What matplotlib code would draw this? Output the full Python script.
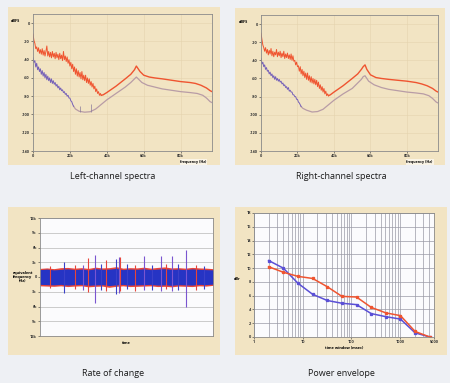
import numpy as np
import matplotlib
matplotlib.use("Agg")
import matplotlib.pyplot as plt
from matplotlib.patches import Rectangle
from matplotlib.ticker import LogLocator, NullFormatter

plt.rcParams["font.family"] = ["Open Sans", "DejaVu Sans"]

# ── 频谱数据（kHz / dBFS）──────────────────────────────────────────
NOISY_STEP = 0.5
L_RED_NOISY = [-12, -19, -22, -28, -26, -31, -27, -33, -29, -34, -28, -35, -30, -36,
               -31, -25, -36, -31, -37, -32, -38, -31, -37, -33, -39, -32, -38, -34,
               -40, -33, -39, -35, -41, -31, -40, -36, -42, -37, -44, -40, -47, -43,
               -50, -45, -53, -48, -56, -50, -58, -52, -59, -54, -61, -53, -62, -57,
               -63, -57, -65, -60, -66, -61, -68, -64, -70, -66, -72, -69, -75, -72,
               -77, -75, -79, -77, -79]
L_RED_SMOOTH_F = [37, 38, 40, 45, 50, 53, 55, 56, 57, 58, 60, 63, 66, 70, 75, 80, 85, 88, 91, 94, 96, 97]
L_RED_SMOOTH_V = [-79, -78.5, -76, -69, -61, -56, -51, -47, -50, -53, -57, -59, -60, -61,
                  -62.5, -64, -65, -66, -68, -71, -74, -75]
L_PUR_NOISY = [-38, -43, -41, -48, -44, -51, -48, -53, -50, -56, -52, -58, -54, -60, -56,
               -62, -58, -63, -60, -65, -61, -66, -63, -67, -65, -69, -67, -71, -69, -73,
               -71, -74, -73, -76, -75, -78, -77, -80, -79, -82, -82, -85, -86, -89, -91]
L_PUR_SMOOTH_F = [22, 23, 25, 28, 31, 34, 37, 40, 45, 50, 53, 55, 56, 57, 59, 62, 66, 70,
                  75, 80, 85, 89, 92, 94, 96, 97]
L_PUR_SMOOTH_V = [-91, -94, -96.5, -97.5, -97, -94, -89, -84, -77, -70, -65, -61, -59, -61,
                  -65, -68, -70, -72, -73.5, -75, -76, -77, -79, -82, -86, -87]
L_SPIKES_F = [25.5, 31.4]
L_SPIKES_TOP = [-91, -88]
L_SPIKES_BASE = [-97, -97]

R_RED_NOISY = [-10, -17, -23, -26, -30, -26, -32, -28, -34, -29, -33, -27, -35, -30,
               -36, -31, -34, -28, -36, -31, -35, -30, -37, -32, -36, -30, -38, -33,
               -37, -32, -38, -34, -39, -33, -40, -35, -41, -40, -45, -42, -47, -46,
               -52, -47, -55, -50, -57, -52, -59, -54, -61, -54, -62, -57, -64, -58,
               -65, -60, -66, -61, -67, -62, -69, -64, -71, -67, -73, -69, -75, -71,
               -77, -74, -79, -77, -79]
R_RED_SMOOTH_F = [37, 38, 40, 45, 50, 53, 55, 56, 57, 58, 60, 63, 66, 70, 75, 80, 85, 88, 91, 94, 96, 97]
R_RED_SMOOTH_V = [-79, -78, -75, -68, -60, -55, -50, -47, -45, -50, -56, -59, -60, -61,
                  -62, -63, -64.5, -66, -68, -71, -74, -75]
R_PUR_NOISY = [-38, -44, -42, -47, -45, -50, -48, -52, -51, -55, -53, -57, -55, -59, -57,
               -61, -58, -62, -60, -63, -61, -64, -63, -66, -65, -68, -67, -70, -69, -72,
               -70, -74, -73, -75, -75, -78, -78, -80, -80, -83, -83, -86, -87, -89, -91]
R_PUR_SMOOTH_F = [22, 23, 25, 28, 31, 34, 37, 40, 45, 50, 53, 55, 56, 57, 59, 62, 66, 70,
                  75, 80, 85, 89, 92, 94, 96, 97]
R_PUR_SMOOTH_V = [-91, -93, -95, -97, -96.5, -94, -89, -84, -77, -71, -65, -61, -58, -57,
                  -63, -67, -70, -72, -73.5, -75, -76, -77, -79, -82, -86, -87]

SPEC_YTICKS = [0, -20, -40, -60, -80, -100, -120, -140]
SPEC_XTICKS = [0, 20, 40, 60, 80]
SPEC_XLABELS = ["0", "20k", "40k", "60k", "80k"]

# ── 变化率数据（时间 0-100，单位 kHz）─────────────────────────────
BAND_T = list(range(0, 101, 4))
BAND_UP = [1.5, 1.6, 1.45, 1.55, 1.65, 1.5, 1.6, 1.45, 1.7, 1.55, 1.6, 1.75, 1.5,
           1.6, 1.55, 1.65, 1.5, 1.6, 1.7, 1.55, 1.6, 1.5, 1.65, 1.55, 1.5, 1.45]
BAND_LO = [-1.5, -1.55, -1.6, -1.5, -1.65, -1.55, -1.5, -1.7, -1.6, -1.55, -1.75, -1.6,
           -1.5, -1.65, -1.6, -1.55, -1.5, -1.65, -1.6, -1.7, -1.55, -1.6, -1.65, -1.5,
           -1.55, -1.45]
EDGE_UP = [1.75, 1.85, 1.7, 1.9, 1.95, 1.8, 1.9, 1.75, 2.0, 1.85, 1.9, 2.1, 1.8,
           1.9, 1.85, 2.0, 1.8, 1.95, 2.05, 1.85, 1.9, 1.8, 1.95, 1.85, 1.8, 1.7]
EDGE_LO = [-1.8, -1.85, -1.9, -1.8, -1.95, -1.85, -1.8, -2.0, -1.9, -1.85, -2.1, -1.9,
           -1.8, -1.95, -1.9, -1.85, -1.8, -1.95, -1.9, -2.0, -1.85, -1.9, -1.95, -1.8,
           -1.85, -1.7]
SPIKE_T = [6, 13.8, 20, 25, 27.9, 32, 35, 38, 44, 45.5, 46.5, 50, 55, 60, 65, 70, 73,
           76.5, 80, 84.6, 90, 95]
SPIKE_TOP = [2.2, 3.0, 2.4, 2.5, 3.8, 4.5, 2.6, 3.5, 3.6, 4.1, 4.0, 2.6, 2.5, 4.3, 2.5,
             4.3, 2.7, 4.2, 2.6, 5.4, 2.4, 2.3]
SPIKE_BOT = [-2.3, -3.3, -2.5, -2.6, -3.0, -5.2, -2.7, -2.8, -3.4, -3.3, -2.9, -2.5,
             -2.8, -2.6, -2.7, -2.9, -2.5, -2.8, -2.6, -6.2, -2.6, -2.4]
SPIKE_COL = ["#e8453a", "#3a40c8", "#e8453a", "#7a55d0", "#e8453a", "#7a55d0", "#3a40c8",
             "#e8453a", "#3a40c8", "#7a55d0", "#e8453a", "#3a40c8", "#e8453a", "#7a55d0",
             "#3a40c8", "#7a55d0", "#e8453a", "#7a55d0", "#3a40c8", "#7a55d0", "#e8453a",
             "#3a40c8"]
ROC_YTICKS = [12, 9, 6, 3, 0, -3, -6, -9, -12]
ROC_YLABELS = ["12k", "9k", "6k", "3k", "0", "3k", "6k", "9k", "12k"]

# ── 功率包络数据（msec / dBr）──────────────────────────────────────
WIN_MS = [2, 4, 8, 16, 32, 64, 128, 256, 512, 1024, 2048, 4096]
ENV_RED = [10.2, 9.4, 8.8, 8.5, 7.3, 5.9, 5.8, 4.3, 3.5, 3.1, 0.8, 0.0]
ENV_BLUE = [11.1, 10.0, 7.8, 6.2, 5.3, 4.9, 4.7, 3.4, 2.95, 2.6, 0.6, 0.0]

PAGE = "#eef0f4"
BEIGE = "#f2e4c3"
RED = "#ef5430"
PURPLE = "#7560b8"
MAUVE = "#b89ca6"
W, H = 450, 383


def px_rect(x0, y0, x1, y1):
    return [x0 / W, 1 - y1 / H, (x1 - x0) / W, (y1 - y0) / H]


def panel_bg(fig, x0, y0, x1, y1):
    fig.patches.append(Rectangle((x0 / W, 1 - y1 / H), (x1 - x0) / W, (y1 - y0) / H,
                                 transform=fig.transFigure, facecolor=BEIGE,
                                 edgecolor="none", zorder=-5))


def style_axes(ax, face):
    ax.set_facecolor(face)
    ax.set_zorder(2)
    for s in ax.spines.values():
        s.set_color("#8a8a8a")
        s.set_linewidth(0.6)
    ax.tick_params(length=1.2, width=0.4, pad=1, labelsize=2.8, colors="#333333")
    for lbl in ax.get_xticklabels() + ax.get_yticklabels():
        lbl.set_fontweight("bold")


def spectrum(ax, red_noisy, red_f, red_v, pur_noisy, pur_f, pur_v, spikes=None):
    f_red = np.arange(len(red_noisy)) * NOISY_STEP
    f_pur = np.arange(len(pur_noisy)) * NOISY_STEP
    ax.plot(pur_f, pur_v, color=MAUVE, lw=0.9)
    ax.plot(f_pur, pur_noisy, color=PURPLE, lw=0.7)
    ax.plot(red_f, red_v, color=RED, lw=1.0)
    ax.plot(f_red, red_noisy, color=RED, lw=0.7)
    if spikes:
        ax.vlines(spikes[0], spikes[2], spikes[1], color="#8a7a9a", lw=0.5)
    ax.set_xlim(0, 97)
    ax.set_ylim(-140, 10)
    ax.set_yticks(SPEC_YTICKS)
    ax.set_yticklabels([str(v) for v in SPEC_YTICKS])
    ax.set_xticks(SPEC_XTICKS)
    ax.set_xticklabels(SPEC_XLABELS)
    style_axes(ax, BEIGE)
    ax.grid(color="#e4d3ae", lw=0.4)
    ax.set_axisbelow(True)
    ax.text(-0.1, 0.94, "dBFS", transform=ax.transAxes, fontsize=2.8, ha="center",
            fontweight="bold")
    ax.text(0.97, -0.08, "frequency (Hz)", transform=ax.transAxes, fontsize=2.6,
            ha="right", va="center", fontweight="bold",
            bbox=dict(facecolor="#faf4e6", edgecolor="none", pad=0.6))


fig = plt.figure(figsize=(W / 100, H / 100), dpi=100, facecolor=PAGE)

# 左右声道频谱
panel_bg(fig, 8, 7, 220, 165)
ax = fig.add_axes(px_rect(33, 14, 212, 151))
spectrum(ax, L_RED_NOISY, L_RED_SMOOTH_F, L_RED_SMOOTH_V, L_PUR_NOISY,
         L_PUR_SMOOTH_F, L_PUR_SMOOTH_V, (L_SPIKES_F, L_SPIKES_TOP, L_SPIKES_BASE))
fig.text(113 / W, 1 - 176 / H, "Left-channel spectra", fontsize=6.5, ha="center",
         va="center", color="#1a1a1a")

panel_bg(fig, 235, 8, 445, 165)
ax = fig.add_axes(px_rect(261, 15, 438, 151))
spectrum(ax, R_RED_NOISY, R_RED_SMOOTH_F, R_RED_SMOOTH_V, R_PUR_NOISY,
         R_PUR_SMOOTH_F, R_PUR_SMOOTH_V)
fig.text(341 / W, 1 - 176 / H, "Right-channel spectra", fontsize=6.5, ha="center",
         va="center", color="#1a1a1a")

# 变化率
panel_bg(fig, 8, 207, 220, 355)
ax = fig.add_axes(px_rect(40, 218, 213, 336))
ax.fill_between(BAND_T, EDGE_LO, EDGE_UP, color="#e8453a", lw=0)
ax.vlines(SPIKE_T, SPIKE_BOT, SPIKE_TOP, colors=SPIKE_COL, lw=0.8)
ax.fill_between(BAND_T, BAND_LO, BAND_UP, color="#2634c4", lw=0)
ax.set_xlim(0, 100)
ax.set_ylim(-12, 12)
ax.set_yticks(ROC_YTICKS)
ax.set_yticklabels(ROC_YLABELS)
ax.set_xticks([])
style_axes(ax, "#fbfbfd")
ax.grid(axis="y", color="#b8b8b8", lw=0.5)
ax.set_axisbelow(True)
ax.text(-0.1, 0.5, "equivalent\nfrequency\n(Hz)", transform=ax.transAxes, fontsize=2.8,
        ha="center", va="center", linespacing=1.1, fontweight="bold")
ax.text(0.5, -0.06, "time", transform=ax.transAxes, fontsize=2.8, ha="center",
        va="center", fontweight="bold")
fig.text(113 / W, 1 - 373 / H, "Rate of change", fontsize=6.5, ha="center",
         va="center", color="#1a1a1a")

# 功率包络
panel_bg(fig, 235, 207, 447, 355)
ax = fig.add_axes(px_rect(254, 213, 434, 337))
ax.set_xscale("log")
ax.plot(WIN_MS, ENV_BLUE, color="#5a4fd6", lw=1.1, marker="s", ms=1.4)
ax.plot(WIN_MS, ENV_RED, color=RED, lw=1.1, marker="s", ms=1.4)
ax.set_xlim(1, 5000)
ax.set_ylim(0, 18)
ax.set_yticks(range(0, 19, 2))
ax.set_xticks([1, 10, 100, 1000, 5000])
ax.set_xticklabels(["1", "10", "100", "1000", "5000"])
ax.xaxis.set_minor_locator(LogLocator(base=10, subs=range(2, 10), numticks=20))
ax.xaxis.set_minor_formatter(NullFormatter())
style_axes(ax, "#fbfbfd")
ax.tick_params(which="minor", length=0)
ax.grid(which="both", color="#9a9aa6", lw=0.5)
ax.set_axisbelow(True)
ax.text(-0.095, 0.47, "dBr", transform=ax.transAxes, fontsize=2.8, ha="center",
        va="center", fontweight="bold")
ax.text(0.5, -0.09, "time window (msec)", transform=ax.transAxes, fontsize=2.8,
        ha="center", va="center", fontweight="bold")
fig.text(341 / W, 1 - 373 / H, "Power envelope", fontsize=6.5, ha="center",
         va="center", color="#1a1a1a")

plt.savefig("out.png", dpi=100, facecolor=PAGE)
plt.close()
